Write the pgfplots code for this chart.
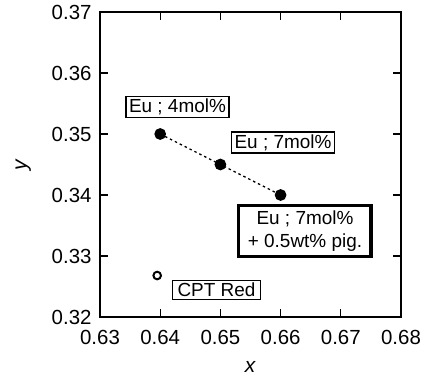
\documentclass[border=0pt]{standalone}
\usepackage{pgfplots}
\pgfplotsset{compat=1.18}
\usepackage{fontspec}
\setmainfont{Liberation Sans}
\begin{document}
\begin{tikzpicture}[x=1bp,y=1bp]
\begin{axis}[
  at={(0,0)}, anchor=south west,
  scale only axis, width=301bp, height=305bp,
  xmin=0.63, xmax=0.68, ymin=0.32, ymax=0.37,
  xtick={0.63,0.64,...,0.68}, ytick={0.32,0.33,...,0.37},
  /pgf/number format/assume math mode=true,
  /pgf/number format/fixed, /pgf/number format/fixed zerofill, /pgf/number format/precision=2,
  tick align=inside, major tick length=8bp,
  tick style={line width=1.3pt, black},
  axis line style={line width=1.4pt},
  ticklabel style={font=\fontsize{20.5}{24}\selectfont},
  xticklabel style={yshift=-10bp},
  yticklabel style={xshift=-5bp},
  xlabel={\textit{x}}, ylabel={\textit{y}},
  label style={font=\fontsize{21}{24}\selectfont},
  xlabel style={yshift=-10bp},
  ylabel style={yshift=14bp},
  clip=false,
]
\addplot[black, line width=1.3pt, dash pattern=on 2.5pt off 3pt, mark=*, mark size=5.2bp, mark options={solid}]
  coordinates {(0.64,0.350) (0.65,0.345) (0.66,0.340)};
\addplot[only marks, mark=o, mark size=3.8bp, mark options={line width=2pt, black}]
  coordinates {(0.6395,0.3268)};
\node[draw, line width=1.3pt, fill=white, inner xsep=3bp, inner ysep=2.5bp, font=\fontsize{19}{22}\selectfont] at (axis cs:0.64287,0.35443) {Eu ; 4mol\%};
\node[draw, line width=1.3pt, fill=white, inner xsep=3bp, inner ysep=2.5bp, font=\fontsize{19}{22}\selectfont] at (axis cs:0.6604,0.34861) {Eu ; 7mol\%};
\node[draw, line width=3.2pt, fill=white, inner xsep=9bp, inner ysep=5bp, align=center, font=\fontsize{19}{23}\selectfont] at (axis cs:0.66405,0.3341) {Eu ; 7mol\%\\+ 0.5wt\% pig.};
\node[draw, line width=1.3pt, fill=white, inner xsep=5bp, inner ysep=2.5bp, font=\fontsize{19}{22}\selectfont] at (axis cs:0.64935,0.32443) {CPT Red};
\end{axis}
\pgfresetboundingbox
\path[use as bounding box] (-100,-62) rectangle (322,317);
\end{tikzpicture}
\end{document}
